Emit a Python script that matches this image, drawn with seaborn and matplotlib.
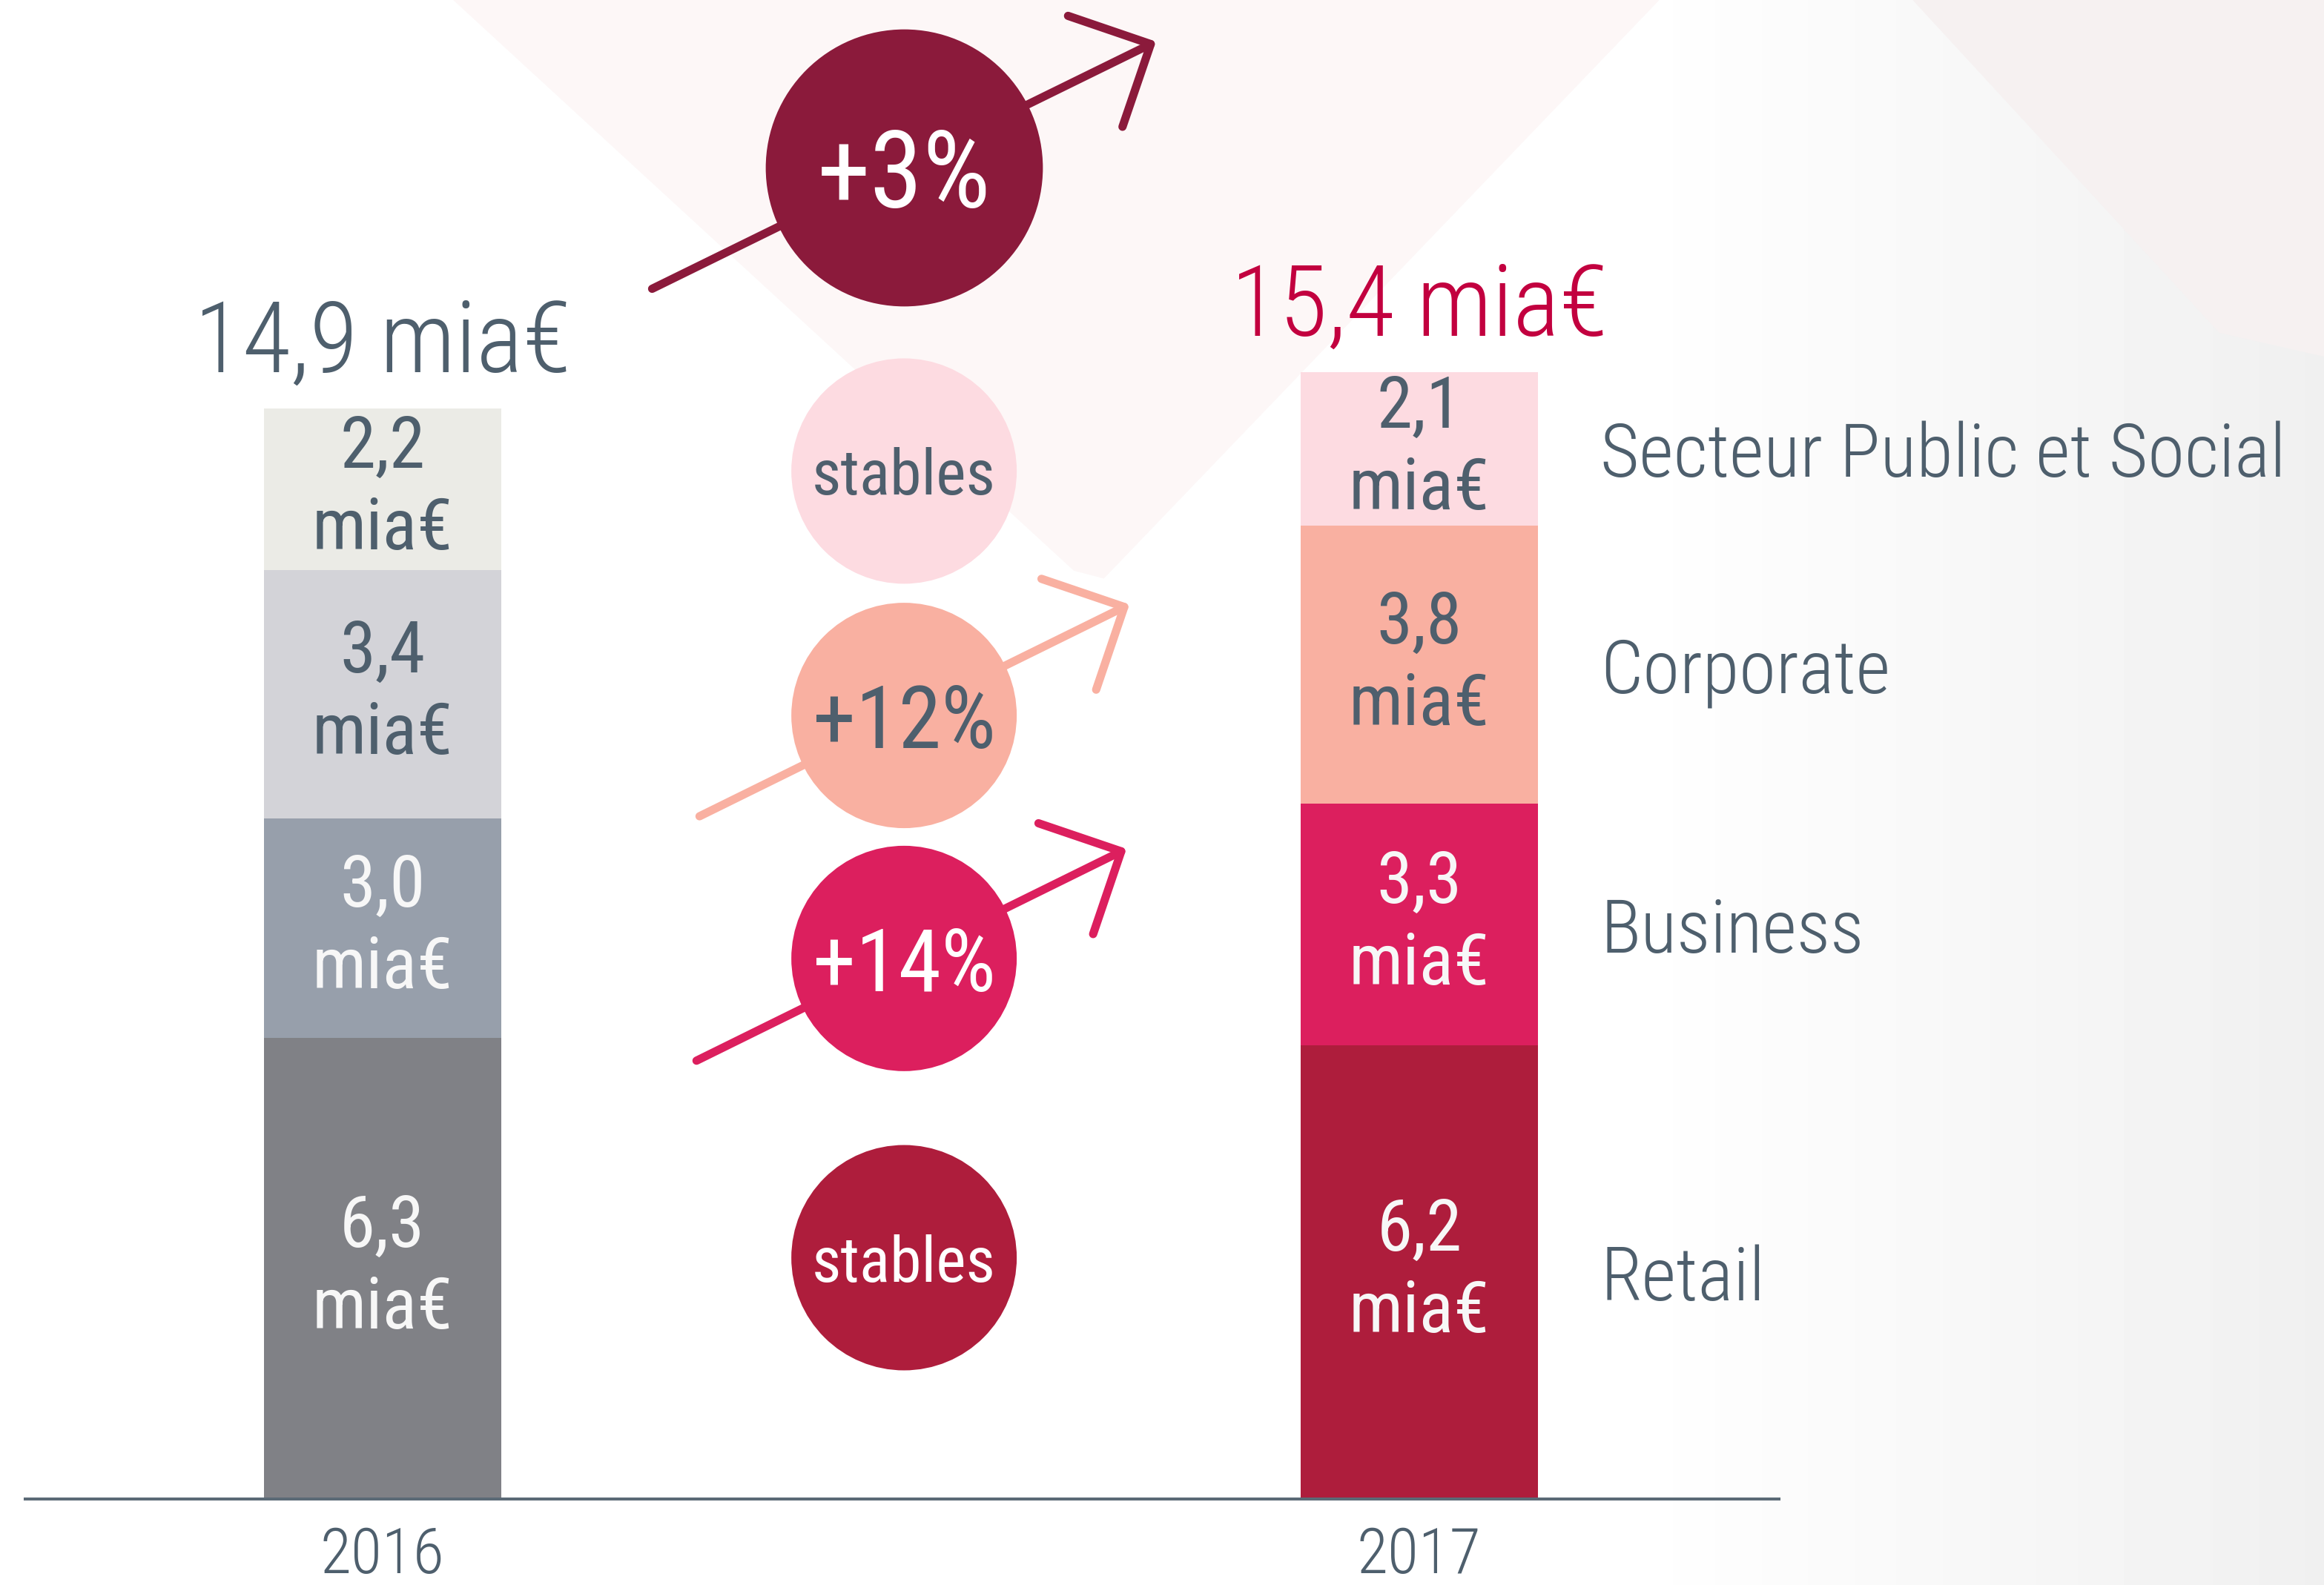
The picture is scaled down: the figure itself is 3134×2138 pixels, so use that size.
import numpy as np
import pandas as pd
import matplotlib
matplotlib.use("Agg")
import matplotlib.pyplot as plt
import seaborn as sns
from matplotlib import font_manager
from matplotlib.patches import Polygon

# data (bottom -> top of the stack)
years = ["2016", "2017"]
segments = ["Retail", "Business", "Corporate", "Secteur Public et Social"]
values_2016 = [6.3, 3.0, 3.4, 2.2]
values_2017 = [6.2, 3.3, 3.8, 2.1]
segment_growth = ["stables", "+14%", "+12%", "stables"]
total_growth = "+3%"

colors_2016 = ["#808186", "#979fab", "#d3d3d8", "#ebebe6"]
colors_2017 = ["#ae1d3c", "#dc1f5e", "#f9b0a1", "#fddbe1"]
label_colors = ["#f7f7f7", "#f7f7f7", "#4e5f6d", "#4e5f6d"]
SLATE = "#4e5f6d"
CRIMSON = "#c2003f"
TOTAL_BUBBLE = "#8b1a3b"

installed = {f.name for f in font_manager.fontManager.ttflist}
FONT = "Roboto Condensed" if "Roboto Condensed" in installed else "Roboto"
W = 1.0 if FONT == "Roboto Condensed" else 0.88  # shrink wide text if no condensed face

sns.set_theme(style="white")
plt.rcParams["font.family"] = [FONT, "DejaVu Sans"]

df = pd.DataFrame({
    "year": np.repeat(years, len(segments)),
    "segment": segments * 2,
    "value": values_2016 + values_2017,
})
df["top"] = df.groupby("year")["value"].cumsum()
df["mid"] = df["top"] - df["value"] / 2

fig = plt.figure(figsize=(31.34, 21.38), dpi=100)

# soft background
bg = fig.add_axes([0, 0, 1, 1], zorder=-1)
xs = np.linspace(0, 1, 500)
shade = np.where(xs < 0.7, 1.0, 1.0 - 0.06 * (xs - 0.7) / 0.3)
bg.imshow(np.tile(shade, (2, 1)), cmap="gray", vmin=0, vmax=1,
          extent=[0, 1, 0, 1], aspect="auto")
bg.add_patch(Polygon([[0.195, 1], [0.462, 0.64], [0.475, 0.635], [0.714, 1]],
                     color="#fdf7f7", lw=0))
bg.add_patch(Polygon([[0.823, 1], [0.955, 0.79], [1, 0.775], [1, 1]], color="#f6f1f1", lw=0))
bg.set_xlim(0, 1)
bg.set_ylim(0, 1)
bg.axis("off")

ax = fig.add_axes([0, 0.0542, 1, 0.9458])
ax.patch.set_alpha(0)

# stacked bars: draw cumulative totals from the top layer down
for i in reversed(range(len(segments))):
    layer = df[df["segment"] == segments[i]]
    sns.barplot(data=layer, x="year", y="top", hue="year", order=years, hue_order=years,
                palette=[colors_2016[i], colors_2017[i]], width=0.229, saturation=1,
                errorbar=None, legend=False, linewidth=0, ax=ax)

for _, r in df.iterrows():
    xi = years.index(r["year"])
    si = segments.index(r["segment"])
    ax.text(xi, r["mid"], f"{r['value']:.1f}".replace(".", ",") + "\nmia€",
            ha="center", va="center", fontsize=70, color=label_colors[si], linespacing=1.25)

totals = df.groupby("year")["value"].sum()
for xi, (yr, c) in enumerate(zip(years, [SLATE, CRIMSON])):
    ax.text(xi, totals[yr] + 0.5, f"{totals[yr]:.1f}".replace(".", ",") + " mia€",
            ha="center", va="baseline", fontsize=96, color=c, fontweight="light")

last = df[df["year"] == years[-1]]
for _, r in last.iterrows():
    ax.text(1.175, r["mid"], r["segment"], ha="left", va="center_baseline", fontsize=73 * W,
            color=SLATE, fontweight="light")

# growth bubbles and arrows (figure fraction)
arrows = [((0.2806, 0.8178), (0.4974, 0.9738), TOTAL_BUBBLE),
          ((0.3010, 0.4850), (0.4860, 0.6187), colors_2017[2]),
          ((0.2997, 0.3308), (0.4847, 0.4645), colors_2017[1])]
for start, tip, c in arrows:
    ax.annotate("", xy=tip, xytext=start, xycoords="figure fraction", textcoords="figure fraction",
                arrowprops=dict(arrowstyle="->,head_length=0.6,head_width=0.6", color=c, lw=8,
                                mutation_scale=100, shrinkA=0, shrinkB=0), zorder=3)

bubble_x = 0.389
bubble_y = [0.2065, 0.3953, 0.5486, 0.7028]
bubble_text = ["#ffffff", "#ffffff", SLATE, SLATE]
ax.scatter([bubble_x] * 4, bubble_y, s=47900, c=colors_2017, linewidths=0,
           transform=fig.transFigure, zorder=4, clip_on=False)
ax.scatter([bubble_x], [0.8944], s=72400, c=TOTAL_BUBBLE, linewidths=0,
           transform=fig.transFigure, zorder=4, clip_on=False)
for y, t, c in zip(bubble_y, segment_growth, bubble_text):
    size = 62 * W if t == "stables" else 84
    ax.text(bubble_x, y, t, transform=fig.transFigure, ha="center", va="center_baseline",
            fontsize=size, color=c, zorder=5)
ax.text(bubble_x, 0.8944, total_growth, transform=fig.transFigure, ha="center",
        va="center_baseline", fontsize=104, color="white", zorder=5)

ax.set_xlim(-0.3688, 1.8727)
ax.set_ylim(0, 20.486)
ax.set_yticks([])
ax.set_xlabel("")
ax.set_ylabel("")
ax.tick_params(axis="x", length=0, pad=26, labelsize=62, labelcolor=SLATE)
for lbl in ax.get_xticklabels():
    lbl.set_fontweight("light")
sns.despine(ax=ax, left=True)
ax.spines["bottom"].set_color("#5b6a76")
ax.spines["bottom"].set_linewidth(2.9)
ax.spines["bottom"].set_bounds(-0.3445, 1.3467)

fig.savefig("out.png", dpi=100)
